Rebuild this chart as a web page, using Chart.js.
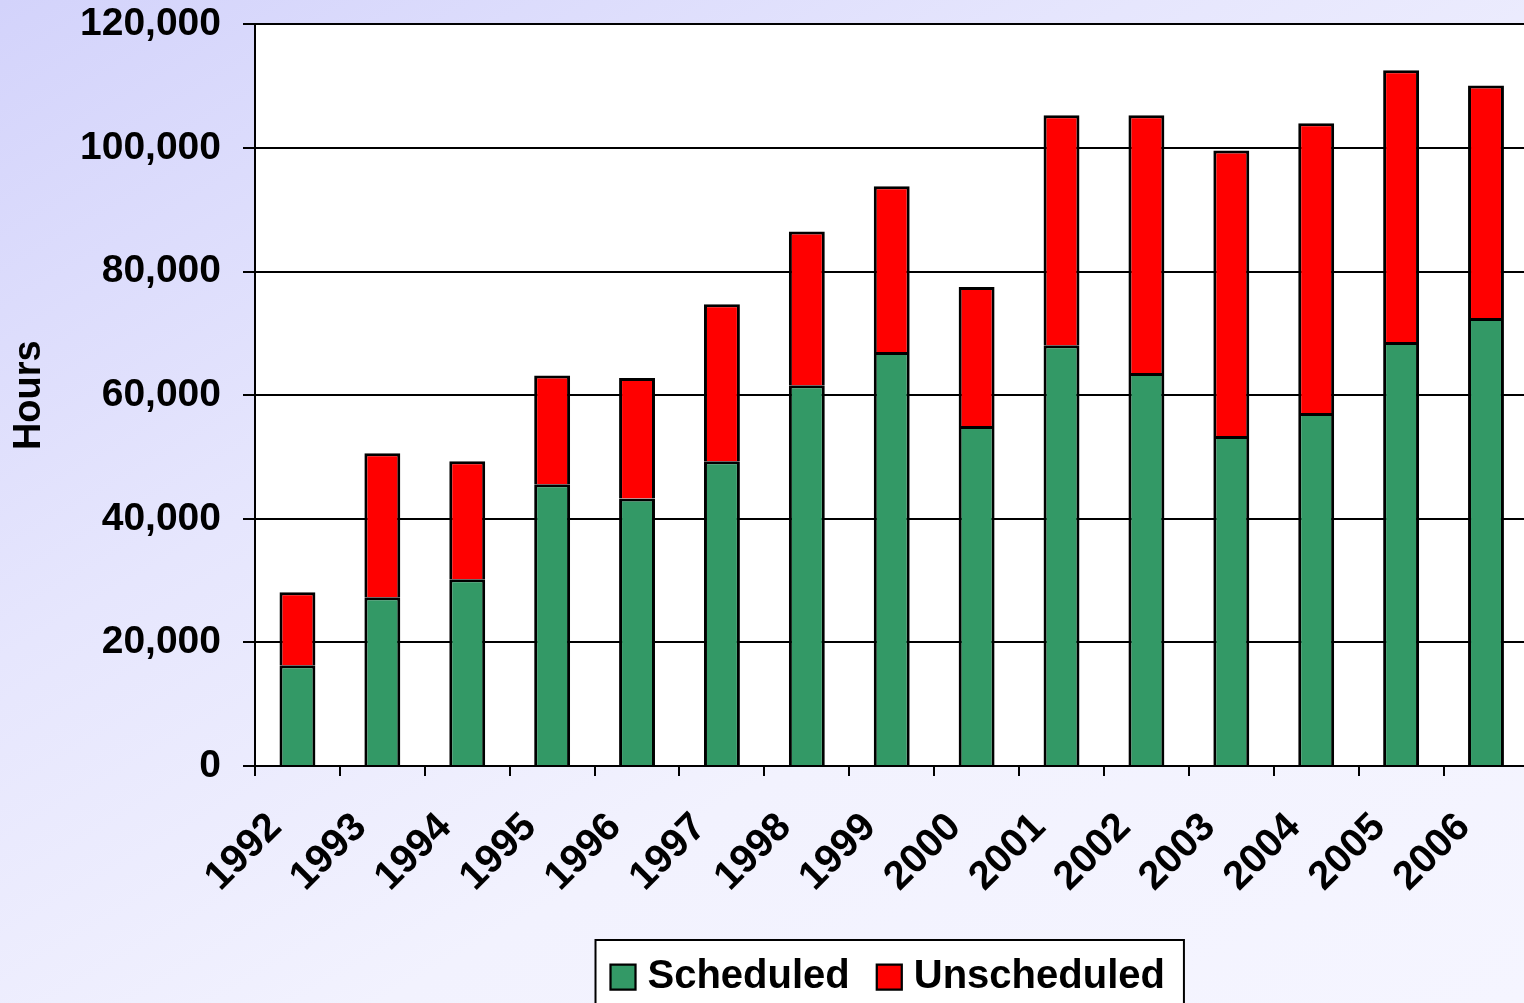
<!DOCTYPE html>
<html>
<head>
<meta charset="utf-8">
<script src="https://cdn.jsdelivr.net/npm/chart.js@4.4.1/dist/chart.umd.min.js"></script>
<style>
  html, body { margin: 0; padding: 0; overflow: hidden; width: 1524px; height: 1003px; }
  body { background: linear-gradient(150deg, #d3d3fb 0%, #e6e6fd 35%, #f2f2fe 65%, #f5f5ff 100%); }
  #wrap { position: absolute; left: 0; top: -21px; width: 1548px; height: 1028px; }
</style>
</head>
<body>
<div id="wrap"><canvas id="c" width="1548" height="1028"></canvas></div>
<script>
const years = ['1992','1993','1994','1995','1996','1997','1998','1999','2000','2001','2002','2003','2004','2005','2006'];
const scheduled   = [16300, 27300, 30200, 45600, 43300, 49300, 61600, 67000, 55000, 68100, 63600, 53400, 57100, 68600, 72500];
const unscheduled = [11800, 23300, 19100, 17600, 19500, 25400, 24900, 26800, 22500, 37200, 41700, 46200, 46900, 44000, 37600];
const yTicks = [0, 20000, 40000, 60000, 80000, 100000, 120000];
const seriesNames = ['Scheduled', 'Unscheduled'];
const seriesColors = ['#339966', '#FF0000'];
const yTitle = 'Hours';

const FONT = "'Liberation Sans', Arial, sans-serif";

const areaBg = {
  id: 'areaBg',
  beforeDraw(chart) {
    const { ctx, chartArea: a } = chart;
    ctx.save();
    ctx.fillStyle = '#ffffff';
    ctx.fillRect(a.left, a.top, a.right - a.left, a.bottom - a.top);
    const lg = chart.legend;
    if (lg && lg.legendHitBoxes && lg.legendHitBoxes.length) {
      const hb = lg.legendHitBoxes;
      const l = hb[0].left - 23;
      const last = hb[hb.length - 1];
      const r = last.left + last.width + 19;
      const t = hb[0].top - 17;
      const b = t + 100;
      ctx.fillStyle = '#ffffff';
      ctx.fillRect(l, t, r - l, b - t);
      ctx.strokeStyle = '#000';
      ctx.lineWidth = 2;
      ctx.strokeRect(l, t, r - l, b - t);
    }
    ctx.restore();
  }
};

const barStyle = {
  borderColor: '#000',
  borderSkipped: false,
  barPercentage: 0.423,
  categoryPercentage: 1.0,
  borderWidth: { top: 3, left: 3, right: 3, bottom: 0 }
};

new Chart(document.getElementById('c'), {
  type: 'bar',
  data: {
    labels: years,
    datasets: [
      Object.assign({ label: seriesNames[0], data: scheduled, backgroundColor: seriesColors[0] }, barStyle),
      Object.assign({ label: seriesNames[1], data: unscheduled, backgroundColor: seriesColors[1] }, barStyle)
    ]
  },
  options: {
    responsive: false,
    animation: false,
    devicePixelRatio: 1,
    layout: { padding: { left: 0, right: 2, top: 0, bottom: 0 } },
    scales: {
      x: {
        stacked: true,
        offset: true,
        grid: { offset: true, drawOnChartArea: false, drawTicks: true, tickLength: 10, color: '#000', lineWidth: 2 },
        border: { display: true, color: '#000', width: 2 },
        ticks: {
          color: '#000',
          font: { family: FONT, size: 40, weight: 'bold' },
          minRotation: 45, maxRotation: 45,
          autoSkip: false,
          padding: 28,
          labelOffset: -22
        },
        afterFit(s) { s.height = 156; }
      },
      y: {
        stacked: true,
        min: 0, max: 120000,
        afterBuildTicks(s) { s.ticks = yTicks.map(v => ({ value: v })); },
        grid: { color: '#000', lineWidth: 2, tickLength: 12, tickColor: '#000' },
        border: { display: true, color: '#000', width: 2 },
        ticks: {
          color: '#000',
          font: { family: FONT, size: 39, weight: 'bold' },
          padding: 22,
          callback: v => Number(v).toLocaleString('en-US')
        },
        title: {
          display: true, text: yTitle, color: '#000',
          font: { family: FONT, size: 38, weight: 'bold' },
          padding: { top: 7, bottom: 0 }
        },
        afterFit(s) { s.width = 255; }
      }
    },
    plugins: {
      legend: {
        position: 'bottom',
        fullSize: false,
        labels: {
          color: '#000',
          font: { family: FONT, size: 40, weight: 'bold' },
          usePointStyle: true,
          pointStyle: 'rect',
          boxWidth: 9, boxHeight: 25,
          padding: 35
        }
      },
      tooltip: { enabled: false }
    }
  },
  plugins: [areaBg]
});
</script>
</body>
</html>
